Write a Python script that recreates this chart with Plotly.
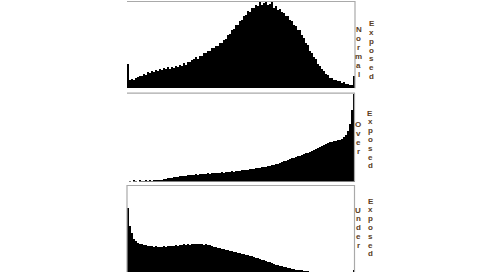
import plotly.graph_objects as go

W, H = 504, 272

# histogram bin heights, 114 bins per panel
normal_vals = [24, 8, 9.5, 8, 10.5, 11, 12.5, 12, 14, 13.5, 16, 15.5, 17.5, 16.5, 18.5, 17.5, 19.5, 18.5, 20.5, 19,
               21, 19.5, 21.5, 20, 22, 21, 23, 22.5, 25, 23.5, 26.5, 26, 28.5, 29.5, 31, 29.5, 32.5, 32, 35, 35.5,
               37.5, 37, 40, 40.5, 42.5, 42, 45.5, 45, 48.5, 49, 53, 54, 58, 59, 63, 63.5, 67.5, 68, 72, 73,
               77, 76.5, 80.5, 80, 83.5, 82, 86.5, 83, 85.5, 87, 83.5, 84.5, 86, 80.5, 82, 78.5, 79.5, 76, 75.5, 72,
               72, 68, 67, 63, 62.5, 58.5, 58, 53, 50.5, 45, 43, 37, 35.5, 31, 29, 24.5, 22.5, 19, 17.5, 14.5,
               13.5, 10.5, 10.5, 8.5, 8.5, 7, 7, 5.5, 6, 4.5, 4.5, 3.5, 3.5, 12]
over_vals = [0, 0.8, 0, 1, 0.5, 0, 1, 0.5, 0.8, 1, 0.6, 1, 0.8, 1, 1, 1.2, 1.5, 2, 2.5, 3,
             3.5, 4, 4, 4.5, 5, 5, 5.5, 5.5, 6, 6, 6.5, 7, 6.5, 7, 7.5, 7, 7.5, 8, 7.5, 8,
             8.5, 8, 8.5, 9, 8.5, 9, 9, 9.5, 9, 10, 9.5, 10, 10.5, 10, 11, 10.5, 11, 11.5, 11.5, 12,
             12, 12.5, 13, 13, 13.5, 14, 14, 14.5, 15, 15, 15.5, 16, 16.5, 17, 17.5, 18, 18.5, 19.5, 20.5, 21,
             22, 22.5, 23.5, 24, 25, 25.5, 26, 27, 27.5, 28.5, 29, 30, 31, 32, 33, 34, 35, 36, 37, 38,
             38.5, 39.5, 40, 40.5, 41, 41.5, 42, 43, 44.5, 47, 51, 58, 72, 88]
under_vals = [64, 46, 39, 33, 31, 29.5, 28.5, 28, 27, 27.5, 26.5, 26, 26.5, 25.5, 26, 25, 25.5, 25, 26, 25.5,
              26, 26.5, 26, 26.5, 27, 26.5, 27.5, 27, 28, 27.5, 28, 27.5, 28.5, 28, 28.5, 28, 28.5, 28, 27.5, 28,
              27, 27, 26, 25.5, 25, 24.5, 24, 23.5, 23, 22.5, 22, 21.5, 21, 20.5, 20, 19.5, 19, 18.5, 18, 17.5,
              17, 16.5, 16, 15, 14.5, 14, 13.5, 12.5, 12, 11, 10.5, 10, 9, 8.5, 7.5, 7, 6.5, 6, 5.5, 5,
              4.5, 4, 3.5, 3, 2.5, 2, 1.8, 1.5, 1, 0.8, 0.5, 0, 0, 0, 0, 0, 0, 0, 0, 0,
              0, 0, 0, 0, 0, 0, 0, 0, 0, 0, 0, 0, 0, 2]

label_left = ["Normal", "Over", "Under"]
label_right = ["Exposed", "Exposed", "Exposed"]

bins = list(range(len(normal_vals)))

# panel pixel geometry: (top_px, baseline_px, right_px, show_left_border, y_max)
panels = [
    (1.0, 88.3, 355.0, False, 87.3),
    (92.7, 181.5, 354.5, False, 88.8),
    (185.0, 272.0, 354.5, True, 87.0),
]
x_left = 127.0
x_right = 355.0

def py(p):
    return 1 - p / H

def px(p):
    return p / W

fig = go.Figure()
series = [normal_vals, over_vals, under_vals]
layout = dict(
    width=W, height=H, margin=dict(l=0, r=0, t=0, b=0),
    paper_bgcolor="white", plot_bgcolor="white", showlegend=False, bargap=0,
)
shapes = []
for k, (vals, (top, base, rgt, lb, ymax)) in enumerate(zip(series, panels)):
    n = "" if k == 0 else str(k + 1)
    fig.add_trace(go.Bar(x=bins, y=vals, width=1, marker=dict(color="black", line=dict(width=0)),
                         xaxis="x" + n, yaxis="y" + n, hoverinfo="skip"))
    layout["xaxis" + n] = dict(domain=[px(x_left), px(x_right)], range=[-0.5, len(bins) - 0.5],
                               visible=False, anchor="y" + n, fixedrange=True)
    layout["yaxis" + n] = dict(domain=[py(base), py(top)], range=[0, ymax],
                               visible=False, anchor="x" + n, fixedrange=True)
    gray = "#a9a9a9"
    shapes.append(dict(type="line", xref="paper", yref="paper", x0=px(x_left), x1=px(rgt),
                       y0=py(top + 0.5), y1=py(top + 0.5), line=dict(color=gray, width=1.2)))
    shapes.append(dict(type="line", xref="paper", yref="paper", x0=px(rgt), x1=px(rgt),
                       y0=py(top), y1=py(base), line=dict(color=gray, width=1.2)))
    if lb:
        shapes.append(dict(type="line", xref="paper", yref="paper", x0=px(x_left), x1=px(x_left),
                           y0=py(top), y1=py(base), line=dict(color=gray, width=1.2)))
layout["shapes"] = shapes

# stacked-letter labels
label_pos = [
    ((358.5, 29.5, 9.0), (371.5, 23.7, 8.8)),
    ((358.0, 125.0, 8.9), (370.0, 113.0, 8.8)),
    ((358.0, 210.0, 8.8), (370.5, 201.0, 8.8)),
]
ann = []
color = "#5a3d22"
for k in range(3):
    for word, (x0, y0, step) in zip([label_left[k], label_right[k]], label_pos[k]):
        for j, ch in enumerate(word):
            ann.append(dict(text="<b>" + ch + "</b>", xref="paper", yref="paper",
                            x=px(x0), y=py(y0 + j * step), showarrow=False,
                            xanchor="center", yanchor="middle",
                            font=dict(family="Liberation Sans, Arial", size=8, color=color)))
layout["annotations"] = ann
fig.update_layout(**layout)
fig.write_html("out.html")
